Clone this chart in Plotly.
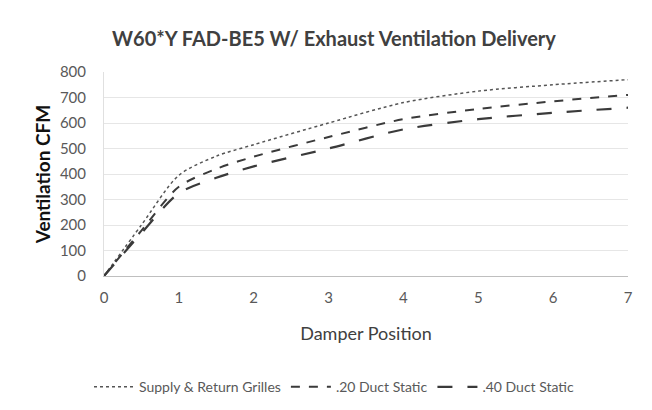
import plotly.graph_objects as go

damper = [0, 0.5, 1, 1.5, 2, 3, 4, 5, 6, 7]
supply_return = [0, 200, 395, 470, 515, 600, 680, 725, 750, 770]
duct_20 = [0, 178, 350, 420, 468, 545, 615, 655, 685, 710]
duct_40 = [0, 168, 325, 385, 430, 500, 575, 615, 640, 660]

LINE_COLOR = "#3a3a3a"
FONT = "Lato"

fig = go.Figure()
fig.add_trace(go.Scatter(
    x=damper, y=supply_return, name="Supply & Return Grilles",
    mode="lines", line=dict(color="#555555", width=1.5, dash="dot", shape="spline", smoothing=0.8),
))
fig.add_trace(go.Scatter(
    x=damper, y=duct_20, name=".20 Duct Static",
    mode="lines", line=dict(color=LINE_COLOR, width=2, dash="dash", shape="spline", smoothing=0.8),
))
fig.add_trace(go.Scatter(
    x=damper, y=duct_40, name=".40 Duct Static",
    mode="lines", line=dict(color=LINE_COLOR, width=2.2, dash="longdash", shape="spline", smoothing=0.8),
))

fig.update_layout(
    width=652, height=410,
    paper_bgcolor="white", plot_bgcolor="white",
    font=dict(family=FONT, color="#595959", size=15),
    title=dict(
        text="<b>W60*Y FAD-BE5 W/ Exhaust Ventilation Delivery</b>",
        x=0.5, xanchor="center", y=0.925, yanchor="middle",
        font=dict(family=FONT, size=20, color="#404040"),
    ),
    margin=dict(l=96, r=32, t=64, b=142, autoexpand=False),
    xaxis=dict(
        range=[0, 7], tickvals=[0, 1, 2, 3, 4, 5, 6, 7], showgrid=False,
        showline=True, linecolor="#bfbfbf", linewidth=1,
        ticks="", ticklabelstandoff=8, tickfont=dict(size=15, color="#595959"),
        title=dict(text="Damper Position", font=dict(size=18, color="#404040"), standoff=22),
        zeroline=False,
    ),
    yaxis=dict(
        range=[0, 800], dtick=100, showgrid=True, gridcolor="#e6e6e6",
        showline=True, linecolor="#e0e0e0", zeroline=False,
        ticks="", ticklabelstandoff=14, tickfont=dict(size=15, color="#595959"),
        title=dict(text="<b>Ventilation CFM</b>", font=dict(size=19, color="#111111"), standoff=4),
    ),
    legend=dict(
        orientation="h", xref="container", yref="container",
        x=0.5, xanchor="center", y=0.075, yanchor="middle",
        font=dict(size=14, color="#595959"), itemwidth=40,
    ),
    showlegend=True,
)

fig.write_html("out.html")
